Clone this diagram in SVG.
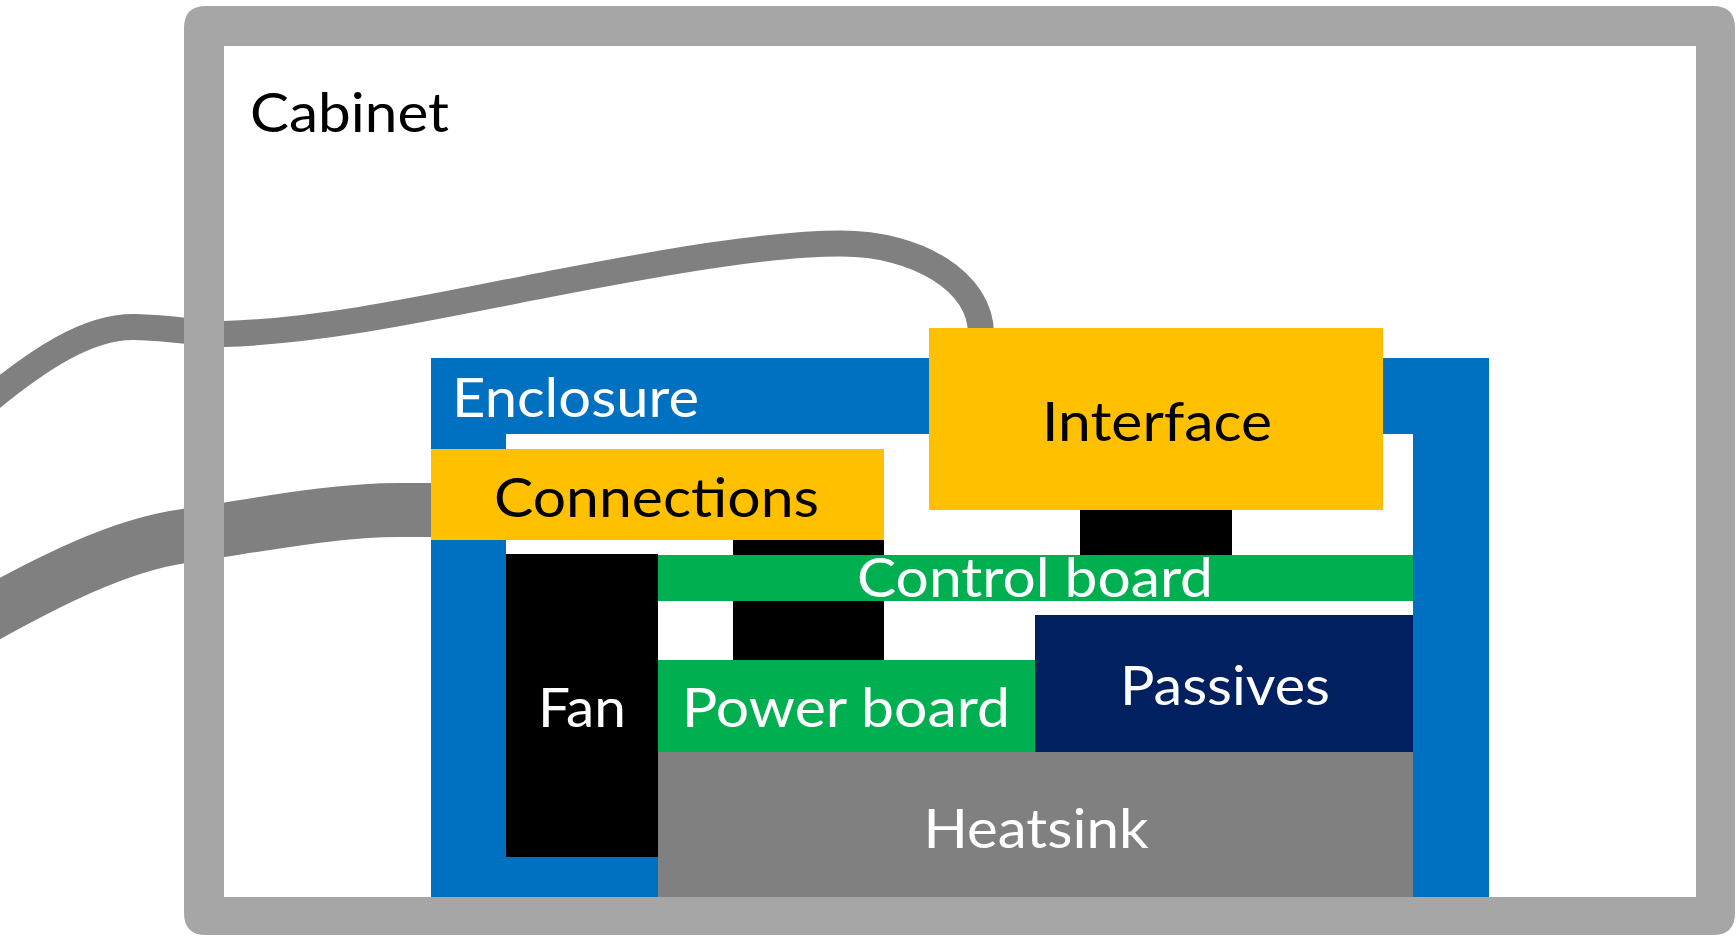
<svg xmlns="http://www.w3.org/2000/svg" width="1736" height="936" viewBox="0 0 1736 936">
<style>
.lbl{font-family:Lato,"Liberation Sans",Arial,sans-serif;font-size:55px;}
.dark{fill:#000000;}
.light{fill:#ffffff;}
.cable{fill:none;stroke:#808080;stroke-linecap:butt;}
.blk{fill:#000000;}
</style>
<rect x="0" y="0" width="1736" height="936" fill="#ffffff"/>
<g id="connectors">
  <path id="cable-top" class="cable" stroke-width="26" d="M -30,416 C 40,356 90,326 135,327 C 175,328 200,334 224,334 C 330,331 450,303 560,282 C 670,261 770,243.5 841,243.5 C 918,243.5 981,282 981,334"/>
  <path id="cable-bottom" class="cable" stroke-width="54" d="M -30,625 C 50,580 120,545 184,536 C 254,526 330,510 400,510 L 440,510"/>
</g>
<g id="cabinet">
  <path fill="#A6A6A6" fill-rule="evenodd" d="M 206,6 L 1713,6 Q 1735,6 1735,28 L 1735,913 Q 1735,935 1713,935 L 206,935 Q 184,935 184,913 L 184,28 Q 184,6 206,6 Z M 224,46 L 224,897 L 1696,897 L 1696,46 Z"/>
  <text class="lbl dark" x="250" y="131.7" textLength="199" lengthAdjust="spacingAndGlyphs">Cabinet</text>
</g>
<g id="enclosure">
  <path fill="#0070C0" fill-rule="evenodd" d="M 431,358 L 1489,358 L 1489,897 L 431,897 Z M 506,434 L 506,857 L 1413,857 L 1413,434 Z"/>
  <text class="lbl light" x="452" y="417.3" textLength="247" lengthAdjust="spacingAndGlyphs">Enclosure</text>
</g>
<g id="links">
  <rect class="blk" x="1080" y="505" width="152" height="52"/>
  <rect class="blk" x="733" y="535" width="151" height="22"/>
  <rect class="blk" x="733" y="598" width="151" height="63"/>
</g>
<g id="interface">
  <rect x="929" y="328" width="454" height="182" fill="#FFC000"/>
  <text class="lbl dark" x="1042" y="440.7" textLength="230" lengthAdjust="spacingAndGlyphs">Interface</text>
</g>
<g id="connections">
  <rect x="431" y="449" width="453" height="91" fill="#FFC000"/>
  <text class="lbl dark" x="494" y="516.7" textLength="325" lengthAdjust="spacingAndGlyphs">Connections</text>
</g>
<g id="fan">
  <rect x="506" y="554" width="152" height="303" fill="#000000"/>
  <text class="lbl light" x="538" y="727.3" textLength="88" lengthAdjust="spacingAndGlyphs">Fan</text>
</g>
<g id="control-board">
  <rect x="658" y="555" width="755" height="46" fill="#00B050"/>
  <text class="lbl light" x="857" y="596.7" textLength="356" lengthAdjust="spacingAndGlyphs">Control board</text>
</g>
<g id="power-board">
  <rect x="658" y="660" width="377" height="93" fill="#00B050"/>
  <text class="lbl light" x="682" y="727.3" textLength="328" lengthAdjust="spacingAndGlyphs">Power board</text>
</g>
<g id="passives">
  <rect x="1035" y="615" width="378" height="138" fill="#002060"/>
  <text class="lbl light" x="1120" y="705" textLength="210" lengthAdjust="spacingAndGlyphs">Passives</text>
</g>
<g id="heatsink">
  <rect x="658" y="752" width="755" height="145" fill="#808080"/>
  <text class="lbl light" x="923.5" y="848.3" textLength="225" lengthAdjust="spacingAndGlyphs">Heatsink</text>
</g>
</svg>
